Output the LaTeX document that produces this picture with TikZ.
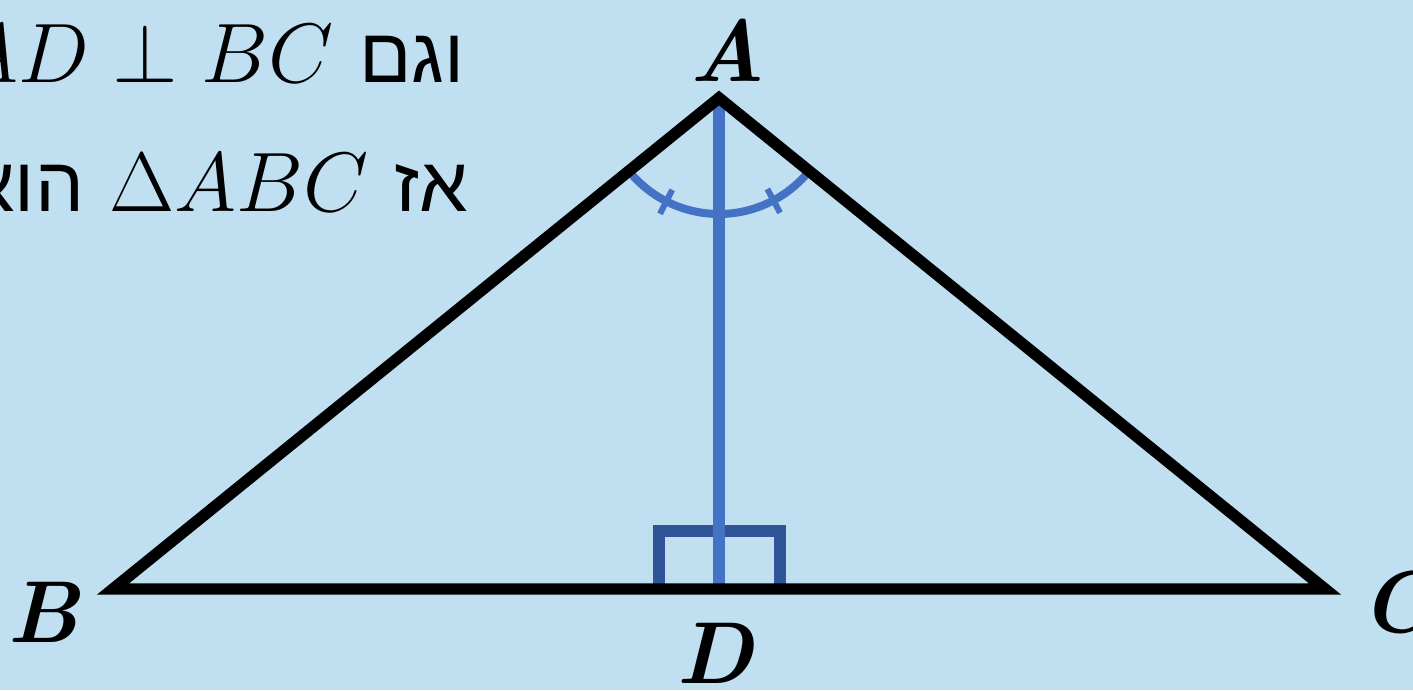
\documentclass[tikz,border=0pt]{standalone}
\usepackage{fix-cm}
\usepackage{fontspec}
\newfontfamily\hebfont[Script=Hebrew]{Liberation Sans}
\TeXXeTstate=1
\definecolor{bgblue}{HTML}{C0DFF1}
\definecolor{altblue}{HTML}{4472C4}
\definecolor{boxblue}{HTML}{2F5597}
\tikzset{
  vertex label/.style={font=\fontsize{50}{56}\selectfont\bfseries\itshape},
  claim/.style={anchor=base east,inner sep=0pt,font=\fontsize{48}{54}\selectfont},
}
\newcommand{\heb}[1]{{\hebfont\fontsize{44}{50}\selectfont\beginR #1\endR}}
\begin{document}
\begin{tikzpicture}[x=0.02cm,y=0.02cm]
\clip (0,0) rectangle (1413,690);
\fill[bgblue] (0,0) rectangle (1413,690);
\coordinate (A) at (719,592);
\coordinate (B) at (113,101);
\coordinate (C) at (1325,101);
\coordinate (D) at (719,101);
% right angle mark, altitude and equal angles
\draw[boxblue,line width=0.24cm] (D) ++(-60,0) -- ++(0,58) -- ++(121,0) -- ++(0,-58);
\draw[altblue,line width=0.23cm] (A) -- (D);
\draw[altblue,line width=0.16cm] (A) ++(219:116) arc[start angle=219,end angle=321,radius=116];
\foreach \ang in {243,298}
  \draw[altblue,line width=0.12cm] (A) ++(\ang:103) -- ++(\ang:27);
\draw[line width=0.23cm] (A) -- (B) -- (C) -- cycle;
\node[vertex label] (lA) at (728,640) {A};
\node[vertex label] (lB) at (43,78) {B};
\node[vertex label] (lC) at (1397,88) {C};
\node[vertex label] (lD) at (715,37) {D};
\node[claim] (given) at (465,607) {$AD\perp BC$\ \heb{וגם}};
\node[claim] (result) at (468,478) {\heb{הוא}\ $\Delta ABC$\ \heb{אז}};
\end{tikzpicture}
\end{document}
